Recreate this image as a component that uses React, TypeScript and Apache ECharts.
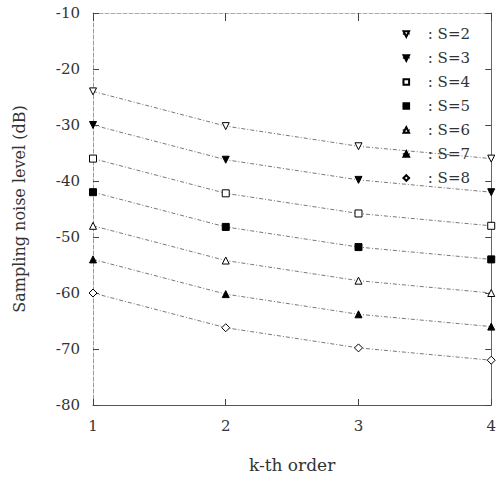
import React, { useEffect, useRef } from "react";
import * as echarts from "echarts";

const orders = [1, 2, 3, 4];
const seriesNames = ["S=2", "S=3", "S=4", "S=5", "S=6", "S=7", "S=8"];
const s2 = [-24, -30.2, -33.8, -36];
const s3 = [-30, -36.2, -39.8, -42];
const s4 = [-36, -42.2, -45.8, -48];
const s5 = [-42, -48.2, -51.8, -54];
const s6 = [-48, -54.2, -57.8, -60];
const s7 = [-54, -60.2, -63.8, -66];
const s8 = [-60, -66.2, -69.8, -72];
const values = [s2, s3, s4, s5, s6, s7, s8];
const symbols = ["triangle", "triangle", "rect", "rect", "triangle", "triangle", "diamond"];
const rotations = [180, 180, 0, 0, 0, 0, 0];
const filled = [false, true, false, true, false, true, false];

const FONT = "DejaVu Serif";

export default function App() {
  const ref = useRef<HTMLDivElement>(null);
  useEffect(() => {
    if (!ref.current) return;
    const chart = echarts.init(ref.current, null, { renderer: "svg" });
    const series = seriesNames.map((name, i) => ({
      name,
      type: "line",
      data: orders.map((x, j) => [x, values[i][j]]),
      symbol: symbols[i],
      symbolRotate: rotations[i],
      symbolSize: symbols[i] === "diamond" ? 8 : 7,
      showAllSymbol: true,
      lineStyle: { color: "#555", width: 0.8, type: [4, 2, 1, 2] },
      itemStyle: {
        color: filled[i] ? "#000" : "#fff",
        borderColor: "#000",
        borderWidth: 1,
      },
      emphasis: { disabled: true },
    }));
    chart.setOption({
      animation: false,
      backgroundColor: "#fff",
      grid: { left: 93, right: 4, top: 13, bottom: 65 },
      legend: {
        orient: "vertical",
        right: 24,
        top: 20,
        itemWidth: 7,
        itemHeight: 7,
        itemGap: 6,
        data: seriesNames,
        formatter: (n: string) => ": " + n,
        textStyle: { fontFamily: FONT, fontSize: 15, color: "#333", padding: [0, 0, 0, 13], lineHeight: 18 },
      },
      xAxis: [
        {
          type: "value",
          min: 1,
          max: 4,
          interval: 1,
          name: "k-th order",
          nameLocation: "middle",
          nameGap: 51,
          nameTextStyle: { fontFamily: FONT, fontSize: 17, color: "#333" },
          axisLine: { lineStyle: { color: "#555", width: 1 } },
          axisTick: { inside: true, length: 6, lineStyle: { color: "#444" } },
          axisLabel: { fontFamily: FONT, fontSize: 15, color: "#333", margin: 13 },
          splitLine: { show: false },
        },
        {
          type: "value",
          position: "top",
          min: 1,
          max: 4,
          interval: 1,
          axisLine: { show: true, lineStyle: { color: "#aaa", width: 1, type: "dashed" } },
          axisTick: { show: true, inside: true, length: 8, lineStyle: { color: "#444" } },
          axisLabel: { show: false },
          splitLine: { show: false },
        },
      ],
      yAxis: [
        {
          type: "value",
          min: -80,
          max: -10,
          interval: 10,
          name: "Sampling noise level (dB)",
          nameLocation: "middle",
          nameGap: 66,
          nameTextStyle: { fontFamily: FONT, fontSize: 16, color: "#333" },
          axisLine: { show: true, lineStyle: { color: "#999", width: 1, type: "dashed" } },
          axisTick: { show: true, inside: true, length: 6, lineStyle: { color: "#444" } },
          axisLabel: { fontFamily: FONT, fontSize: 15, color: "#333", margin: 13 },
          splitLine: { show: false },
        },
        {
          type: "value",
          position: "right",
          min: -80,
          max: -10,
          interval: 10,
          axisLine: { show: true, lineStyle: { color: "#666", width: 1 } },
          axisTick: { show: true, inside: true, length: 6, lineStyle: { color: "#444" } },
          axisLabel: { show: false },
          splitLine: { show: false },
        },
      ],
      series,
    });
    return () => chart.dispose();
  }, []);
  return (
    <div
      ref={ref}
      style={{ position: "fixed", left: 0, top: 0, width: 499, height: 478, background: "#fff" }}
    />
  );
}
